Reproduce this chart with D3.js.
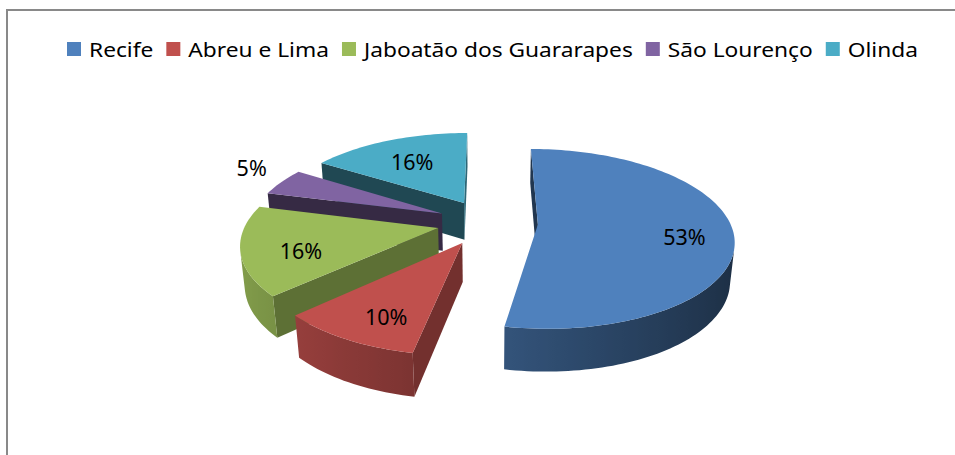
<!DOCTYPE html>
<html>
<head>
<meta charset="utf-8">
<script src="https://cdn.jsdelivr.net/npm/d3@7"></script>
<style>
body { margin: 0; background: #fff; }
svg { display: block; }
</style>
</head>
<body>
<script>
var cities = ["Recife", "Abreu e Lima", "Jaboatão dos Guararapes", "São Lourenço", "Olinda"];
var shares = [53, 10, 16, 5, 16];
var colors = ["#4F81BD", "#C0504D", "#9BBB59", "#8064A2", "#4BACC6"];

var width = 955, height = 455;

// 3d view of the pie (units of one radius)
var view = {x0: 487.5, y0: 222.3, scale: 192, dist: 5.57, tilt: 26.9 * Math.PI / 180},
	radius = 1,
	explode = 0.2626,
	depth = 0.225;

var sinT = Math.sin(view.tilt),
	cosT = Math.cos(view.tilt),
	focal = view.scale * view.dist,
	camera = [0, view.dist * sinT, -view.dist * cosT];

function project(p) {
	var w = view.dist + p[2] * cosT - p[1] * sinT;
	return [view.x0 + focal * p[0] / w, view.y0 - focal * (p[1] * cosT + p[2] * sinT) / w];
}

function visible(p, n) {
	return (camera[0] - p[0]) * n[0] + (camera[1] - p[1]) * n[1] + (camera[2] - p[2]) * n[2] > 0;
}

function shade(c, f) {
	var r = d3.rgb(c);
	return d3.rgb(r.r * f, r.g * f, r.b * f).formatHex();
}

var svg = d3.select("body").append("svg")
	.attr("width", width)
	.attr("height", height);

var defs = svg.append("defs");

// chart border (runs off the right and bottom edges)
svg.append("rect")
	.attr("x", 7)
	.attr("y", 10)
	.attr("width", 970)
	.attr("height", 470)
	.attr("fill", "none")
	.attr("stroke", "#898989")
	.attr("stroke-width", 2);

var color = d3.scaleOrdinal().domain(cities).range(colors);

var arcs = d3.pie().sort(null).value(function(d) { return d; })(shares);

var line = d3.line();

var slices = arcs.map(function(a, i) {
	var mid = (a.startAngle + a.endAngle) / 2,
		ox = explode * Math.sin(mid),
		oz = explode * Math.cos(mid),
		base = color(cities[i]),
		faces = [];

	function pt(ang, r, y) { return [ox + r * Math.sin(ang), y, oz + r * Math.cos(ang)]; }

	var n = Math.ceil((a.endAngle - a.startAngle) / (Math.PI / 120));
	var angs = d3.range(n + 1).map(function(k) { return a.startAngle + (a.endAngle - a.startAngle) * k / n; });

	// radial walls
	[[a.startAngle, [-Math.cos(a.startAngle), 0, Math.sin(a.startAngle)]],
	 [a.endAngle, [Math.cos(a.endAngle), 0, -Math.sin(a.endAngle)]]].forEach(function(w) {
		var pts = [pt(w[0], 0, 0), pt(w[0], radius, 0), pt(w[0], radius, -depth), pt(w[0], 0, -depth)];
		if (visible(pts[1], w[1])) faces.push({d: line(pts.map(project)) + "Z", fill: shade(base, w[1][0] > 0 ? 0.6 : 0.42)});
	});

	// outer curved wall, visible run drawn as one shape with a gradient
	var run = angs.filter(function(g) { return visible(pt(g, radius, 0), [Math.sin(g), 0, Math.cos(g)]); });
	if (run.length > 1) {
		var topEdge = run.map(function(g) { return project(pt(g, radius, 0)); }),
			botEdge = run.map(function(g) { return project(pt(g, radius, -depth)); }).reverse();
		var xs = topEdge.map(function(p) { return p[0]; }),
			x1 = d3.min(xs), x2 = d3.max(xs);
		var stops = run.map(function(g, k) {
			return {offset: (xs[k] - x1) / (x2 - x1), color: shade(base, 0.6 - 0.25 * Math.sin(g))};
		}).sort(function(p, q) { return p.offset - q.offset; });
		var grad = defs.append("linearGradient")
			.attr("id", "wall" + i)
			.attr("gradientUnits", "userSpaceOnUse")
			.attr("x1", x1).attr("x2", x2).attr("y1", 0).attr("y2", 0);
		grad.selectAll("stop").data(stops).enter().append("stop")
			.attr("offset", function(d) { return d.offset; })
			.attr("stop-color", function(d) { return d.color; });
		faces.push({d: line(topEdge.concat(botEdge)) + "Z", fill: "url(#wall" + i + ")"});
	}

	// top face
	var top = [pt(0, 0, 0)].concat(angs.map(function(g) { return pt(g, radius, 0); }));
	faces.push({d: line(top.map(project)) + "Z", fill: base});

	var c = pt(mid, 0.5, -depth / 2);
	return {faces: faces, z: view.dist + c[2] * cosT - c[1] * sinT};
});

slices.sort(function(a, b) { return b.z - a.z; });

var pieG = svg.append("g");

slices.forEach(function(s) {
	s.faces.forEach(function(f) {
		pieG.append("path")
			.attr("d", f.d)
			.attr("fill", f.fill);
	});
});

// percentage labels
arcs.forEach(function(a, i) {
	var mid = (a.startAngle + a.endAngle) / 2,
		outside = shares[i] < 8,
		r = explode + (outside ? 1.2 : 0.73) * radius,
		p = project([r * Math.sin(mid), outside ? 0 : -depth * 0.18, r * Math.cos(mid)]);
	svg.append("text")
		.attr("x", p[0] + (outside ? 0 : 5))
		.attr("y", p[1])
		.attr("dy", outside ? "0" : "0.35em")
		.attr("text-anchor", "middle")
		.attr("font-family", "'Noto Sans', sans-serif")
		.attr("font-size", 21.5)
		.attr("fill", "#000")
		.text(shares[i] + "%");
});

// legend
var legendLeft = 67, legendRight = 918, box = 14, boxGap = 8, itemGap = 13;

var legend = svg.append("g")
	.attr("font-family", "'Noto Sans', sans-serif")
	.attr("font-size", 20);

var items = legend.selectAll("g")
	.data(cities)
	.enter().append("g");

var labels = items.append("text")
	.attr("y", 56.5)
	.attr("fill", "#000")
	.text(function(d) { return d; });

var natural = labels.nodes().map(function(n) { return n.getComputedTextLength(); });
var fit = (legendRight - legendLeft - cities.length * (box + boxGap) - (cities.length - 1) * itemGap) / d3.sum(natural);

var xPos = legendLeft;
items.each(function(d, i) {
	var item = d3.select(this);
	item.append("rect")
		.attr("x", xPos)
		.attr("y", 42)
		.attr("width", box)
		.attr("height", box)
		.attr("fill", color(d));
	item.select("text")
		.attr("x", xPos + box + boxGap)
		.attr("textLength", natural[i] * fit)
		.attr("lengthAdjust", "spacingAndGlyphs");
	xPos += box + boxGap + natural[i] * fit + itemGap;
});
</script>
</body>
</html>
